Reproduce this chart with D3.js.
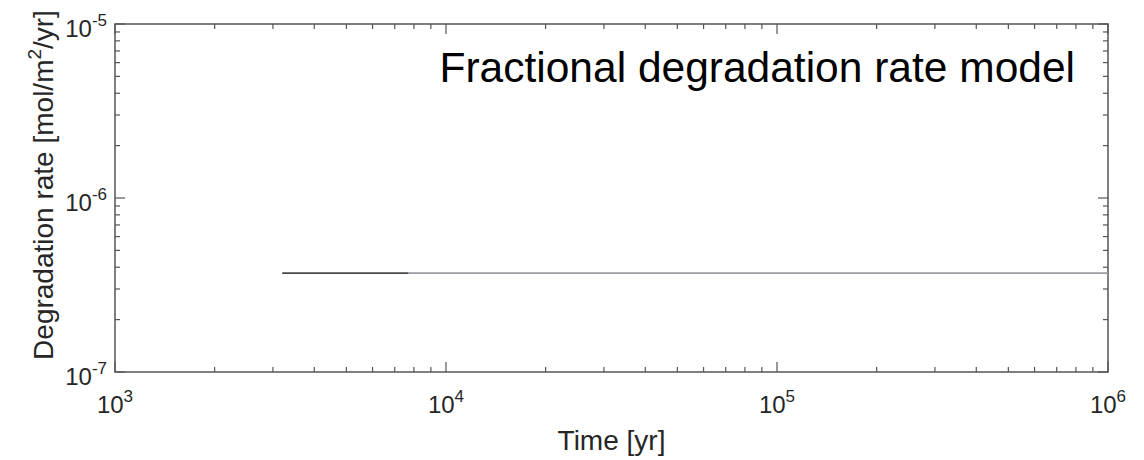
<!DOCTYPE html>
<html>
<head>
    <meta charset="utf-8">
    <title>Fractional degradation rate model</title>
    <script type="text/javascript" src="https://d3js.org/d3.v7.min.js"></script>
    <style>
        body { margin: 0; background: #fff; }
        text { font-family: "Liberation Sans", Arial, sans-serif; fill: #262626; }
    </style>
</head>
<body>
    <script type="text/javascript">
        //Data
        var xTickExps = [3, 4, 5, 6];
        var yTickExps = [-7, -6, -5];
        //Dense early part of the curve (darker)
        var earlyTime = [3200, 7700];
        var earlyRate = [3.7e-7, 3.7e-7];
        //Later part of the curve (lighter)
        var lateTime = [7700, 1e6];
        var lateRate = [3.7e-7, 3.7e-7];

        var w = 1144, h = 460;
        var margin = { left: 115, right: 36, top: 24, bottom: 88 };

        var svg = d3.select("body").append("svg")
            .attr("width", w)
            .attr("height", h);

        var x = d3.scaleLog().domain([1e3, 1e6]).range([margin.left, w - margin.right]);
        var y = d3.scaleLog().domain([1e-7, 1e-5]).range([h - margin.bottom, margin.top]);

        var axisColor = "#555";

        //Minor and major ticks on all four sides, pointing inward
        function logTicks(lo, hi) {
            var t = [];
            for (var e = lo; e < hi; e++) {
                for (var m = 1; m < 10; m++) t.push({ v: m * Math.pow(10, e), major: m == 1 });
            }
            t.push({ v: Math.pow(10, hi), major: true });
            return t;
        }
        var xt = logTicks(3, 6), yt = logTicks(-7, -5);
        var x0 = x.range()[0], x1 = x.range()[1], y0 = y.range()[0], y1 = y.range()[1];

        var ticks = svg.append("g").attr("stroke", axisColor).attr("stroke-width", 1.2);
        xt.forEach(function(d) {
            var len = d.major ? 10 : 5;
            ticks.append("line").attr("x1", x(d.v)).attr("x2", x(d.v)).attr("y1", y0).attr("y2", y0 - len);
            ticks.append("line").attr("x1", x(d.v)).attr("x2", x(d.v)).attr("y1", y1).attr("y2", y1 + len);
        });
        yt.forEach(function(d) {
            var len = d.major ? 10 : 5;
            ticks.append("line").attr("y1", y(d.v)).attr("y2", y(d.v)).attr("x1", x0).attr("x2", x0 + len);
            ticks.append("line").attr("y1", y(d.v)).attr("y2", y(d.v)).attr("x1", x1).attr("x2", x1 - len);
        });

        //Box
        svg.append("rect")
            .attr("x", x0).attr("y", y1)
            .attr("width", x1 - x0).attr("height", y0 - y1)
            .attr("fill", "none").attr("stroke", axisColor).attr("stroke-width", 1.5);

        //Lines
        var line = d3.line().x(d => x(d[0])).y(d => y(d[1]));
        svg.append("path")
            .datum(d3.zip(lateTime, lateRate))
            .attr("d", line).attr("fill", "none")
            .attr("stroke", "#9a9ea2").attr("stroke-width", 1.6);
        svg.append("path")
            .datum(d3.zip(earlyTime, earlyRate))
            .attr("d", line).attr("fill", "none")
            .attr("stroke", "#4a4a4a").attr("stroke-width", 1.8);

        //Tick labels
        svg.selectAll(".xl").data(xTickExps).enter().append("text")
            .attr("class", "xl")
            .attr("x", d => x(Math.pow(10, d)))
            .attr("y", y0 + 41)
            .attr("text-anchor", "middle")
            .attr("font-size", 24)
            .each(function(d) {
                var t = d3.select(this);
                t.append("tspan").text("10");
                t.append("tspan").attr("dy", -11).attr("font-size", 17).text(d);
            });

        svg.selectAll(".yl").data(yTickExps).enter().append("text")
            .attr("class", "yl")
            .attr("x", x0 - 8)
            .attr("y", d => y(Math.pow(10, d)) + 13)
            .attr("text-anchor", "end")
            .attr("font-size", 24)
            .each(function(d) {
                var t = d3.select(this);
                t.append("tspan").text("10");
                t.append("tspan").attr("dy", -11).attr("font-size", 17).text(d);
            });

        //Axis labels
        svg.append("text")
            .attr("x", (x0 + x1) / 2)
            .attr("y", 450)
            .attr("text-anchor", "middle")
            .attr("font-size", 28)
            .text("Time [yr]");

        var yl = svg.append("text")
            .attr("transform", "translate(53,185) rotate(-90)")
            .attr("text-anchor", "middle")
            .attr("font-size", 28);
        yl.append("tspan").text("Degradation rate [mol/m");
        yl.append("tspan").attr("dy", -12).attr("font-size", 19).text("2");
        yl.append("tspan").attr("dy", 12).text("/yr]");

        //Title
        svg.append("text")
            .attr("x", 1075)
            .attr("y", 82)
            .attr("text-anchor", "end")
            .attr("font-size", 42.5)
            .style("fill", "#000")
            .text("Fractional degradation rate model");
    </script>
</body>
</html>
